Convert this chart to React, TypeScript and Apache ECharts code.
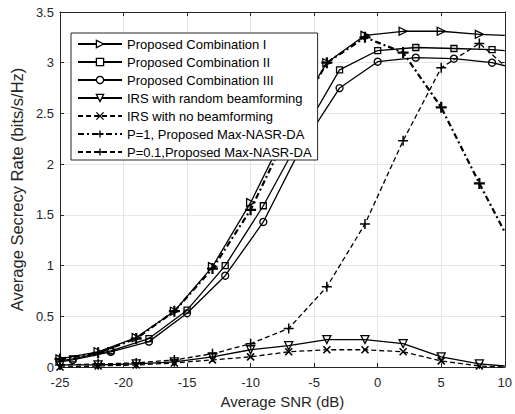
import React, { useEffect, useRef } from "react";
import * as echarts from "echarts";

// SNR grids (dB)
const snrA = [-25, -22, -19, -16, -13, -10, -7, -4, -1, 2, 5, 8, 10];
const snrB = [-25, -24, -21, -18, -15, -12, -9, -6, -3, 0, 3, 6, 9, 10];

// Series values (bits/s/Hz)
const combI = [0.08, 0.15, 0.29, 0.55, 0.99, 1.62, 2.38, 3.0, 3.27, 3.31, 3.31, 3.28, 3.27];
const combII = [0.06, 0.08, 0.16, 0.28, 0.56, 1.0, 1.59, 2.28, 2.93, 3.12, 3.15, 3.14, 3.13, 3.12];
const combIII = [0.05, 0.07, 0.15, 0.25, 0.53, 0.9, 1.43, 2.17, 2.75, 3.01, 3.05, 3.04, 3.0, 2.97];
const irsRandom = [0.02, 0.02, 0.03, 0.05, 0.1, 0.17, 0.21, 0.27, 0.27, 0.23, 0.1, 0.03, 0.01];
const irsNoBf = [0.0, 0.01, 0.02, 0.04, 0.07, 0.1, 0.15, 0.17, 0.17, 0.15, 0.06, 0.01, 0.0];
const p1 = [0.08, 0.14, 0.28, 0.55, 0.97, 1.55, 2.33, 3.0, 3.25, 3.1, 2.56, 1.81, 1.33];
const p01 = [0.02, 0.03, 0.04, 0.07, 0.13, 0.23, 0.38, 0.79, 1.41, 2.23, 2.95, 3.19, 2.97];

const names = [
  "Proposed Combination I",
  "Proposed Combination II",
  "Proposed Combination III",
  "IRS with random beamforming",
  "IRS with no beamforming",
  "P=1, Proposed Max-NASR-DA",
  "P=0.1,Proposed Max-NASR-DA",
];

const xTicks = { min: -25, max: 10, interval: 5 };
const yTicks = { min: 0, max: 3.5, interval: 0.5 };

const FONT = "'Liberation Sans', Arial, Helvetica, sans-serif";

function pts(xs: number[], ys: number[], hideFirst: boolean, hideLast: boolean) {
  return xs.map((x, i) => {
    const item: any = { value: [x, ys[i]] };
    if ((hideFirst && i === 0) || (hideLast && i === xs.length - 1)) item.symbol = "none";
    return item;
  });
}

export default function App() {
  const ref = useRef<HTMLDivElement>(null);
  useEffect(() => {
    if (!ref.current) return;
    const chart = echarts.init(ref.current, undefined, { renderer: "svg" });
    const mk = (
      name: string,
      data: any[],
      symbol: string,
      symbolSize: number | number[],
      lineType: any,
      lineWidth: number,
      markerWidth: number
    ) => ({
      name,
      type: "line",
      data,
      symbol,
      symbolSize,
      showAllSymbol: true,
      clip: true,
      lineStyle: { color: "#000", width: lineWidth, type: lineType },
      itemStyle: { color: "rgba(255,255,255,0)", borderColor: "#000", borderWidth: markerWidth },
      emphasis: { disabled: true },
      z: 3,
    });
    const triRight = "path://M0,0L12,6L0,12Z";
    const triDown = "path://M0,0L12,0L6,11Z";
    const xMark = "path://M0,0L10,10M10,0L0,10";
    const plus = "path://M5,0L5,10M0,5L10,5";
    const dash = [5, 3];
    const dashDot = [6, 3, 2, 3];

    const axisCommon = {
      axisLine: { show: true, onZero: false, lineStyle: { color: "#262626", width: 1 } },
      axisTick: { show: true, inside: true, length: 4, lineStyle: { color: "#262626" } },
    };

    chart.setOption({
      animation: false,
      textStyle: { fontFamily: FONT },
      grid: { left: 56, right: 9, top: 12, bottom: 47, containLabel: false },
      legend: {
        orient: "vertical",
        left: 71,
        top: 33,
        data: names,
        backgroundColor: "#fff",
        borderColor: "#262626",
        borderWidth: 1,
        borderRadius: 0,
        padding: [4, 6, 1, 6],
        itemWidth: 44,
        itemHeight: 9,
        itemGap: 4,
        z: 10,
        selectedMode: false,
        itemStyle: { color: "#fff", borderColor: "#000", borderWidth: 1.3 },
        textStyle: { fontFamily: FONT, fontSize: 13, color: "#000", lineHeight: 14 },
      },
      xAxis: [
        {
          type: "value",
          position: "bottom",
          ...xTicks,
          ...axisCommon,
          name: "Average SNR (dB)",
          nameLocation: "middle",
          nameGap: 26,
          nameTextStyle: { fontFamily: FONT, fontSize: 15, color: "#262626" },
          axisLabel: { fontFamily: FONT, fontSize: 13, color: "#262626", margin: 9 },
          splitLine: { show: true, lineStyle: { color: "#e6e6e6", width: 1 } },
        },
        {
          type: "value",
          position: "top",
          ...xTicks,
          ...axisCommon,
          axisLabel: { show: false },
          splitLine: { show: false },
        },
      ],
      yAxis: [
        {
          type: "value",
          position: "left",
          ...yTicks,
          ...axisCommon,
          name: "Average Secrecy Rate (bits/s/Hz)",
          nameLocation: "middle",
          nameGap: 32,
          nameTextStyle: { fontFamily: FONT, fontSize: 16.5, color: "#262626" },
          axisLabel: { fontFamily: FONT, fontSize: 13, color: "#262626", margin: 6 },
          splitLine: { show: true, lineStyle: { color: "#e6e6e6", width: 1 } },
        },
        {
          type: "value",
          position: "right",
          ...yTicks,
          ...axisCommon,
          axisLabel: { show: false },
          splitLine: { show: false },
        },
      ],
      series: [
        mk(names[0], pts(snrA, combI, false, true), triRight, [8, 8], "solid", 1.3, 1.3),
        mk(names[1], pts(snrB, combII, true, true), "rect", [6, 6], "solid", 1.3, 1.3),
        mk(names[2], pts(snrB, combIII, true, true), "circle", [7, 7], "solid", 1.3, 1.3),
        mk(names[3], pts(snrA, irsRandom, false, true), triDown, [8, 8], "solid", 1.3, 1.3),
        mk(names[4], pts(snrA, irsNoBf, false, true), xMark, [7, 7], dash, 1.3, 1.6),
        mk(names[5], pts(snrA, p1, false, true), plus, [11, 11], dashDot, 2.2, 2.2),
        mk(names[6], pts(snrA, p01, false, true), plus, [10, 10], dash, 1.3, 1.5),
      ],
    });
    return () => chart.dispose();
  }, []);
  return (
    <div
      ref={ref}
      style={{ position: "fixed", left: 0, top: 0, width: 515, height: 414, background: "#fff" }}
    />
  );
}
